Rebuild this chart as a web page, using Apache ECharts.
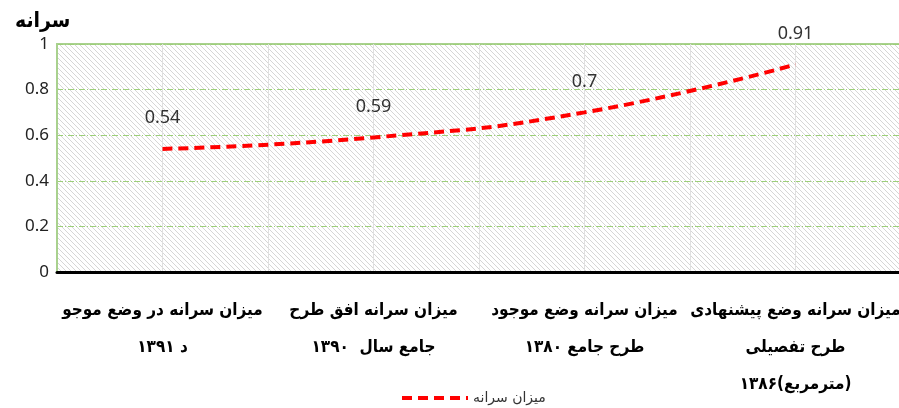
<!DOCTYPE html>
<html><head><meta charset="utf-8">
<script src="https://cdn.jsdelivr.net/npm/echarts@6/dist/echarts.min.js"></script>
<style>html,body{margin:0;padding:0;background:#fff}#c{width:899px;height:408px}</style>
</head><body><div id="c"></div>
<script>
var categories = [
  'میزان سرانه در وضع موجو\nد ۱۳۹۱',
  'میزان سرانه افق طرح\nجامع سال  ۱۳۹۰',
  'میزان سرانه وضع موجود\nطرح جامع ۱۳۸۰',
  'میزان سرانه وضع پیشنهادی\nطرح تفصیلی\n۱۳۸۶(مترمربع)'
];
var seriesName = 'میزان سرانه';
var values = [0.54, 0.59, 0.7, 0.91];
var yTitle = 'سرانه';

var tile = document.createElement('canvas');
tile.width = 5; tile.height = 5;
var tc = tile.getContext('2d');
tc.fillStyle = '#ffffff'; tc.fillRect(0,0,5,5);
tc.fillStyle = '#d6d6d6';
for (var i = 0; i < 5; i++) tc.fillRect(i, i, 1, 1);

var chart = echarts.init(document.getElementById('c'));
chart.setOption({
  animation: false,
  title: { text: yTitle, left: 10, top: 6,
    textStyle: { fontFamily: 'DejaVu Sans Condensed', fontWeight: 'bold', fontSize: 21, color: '#000' } },
  grid: { left: 57, right: -2, top: 44, height: 228, show: true, outerBoundsMode: 'none', containLabel: false,
    backgroundColor: { image: tile, repeat: 'repeat' },
    borderColor: '#a9d18e', borderWidth: 2 },
  legend: { top: 386, left: 395, itemWidth: 66, itemHeight: 10, itemGap: 10,
    textStyle: { fontFamily: 'DejaVu Sans', fontSize: 14, color: '#333' },
    itemStyle: { opacity: 0 },
    lineStyle: { width: 4, type: [10, 6], color: '#ff0000' },
    data: [seriesName] },
  xAxis: [{
    type: 'category', data: categories, boundaryGap: true,
    axisLine: { lineStyle: { color: '#000', width: 3 } },
    axisTick: { show: false },
    splitLine: { show: false },
    axisLabel: { interval: 0, margin: 20, fontFamily: 'DejaVu Sans Condensed', fontWeight: 'bold',
      fontSize: 17, color: '#000', lineHeight: 37 }
  }, {
    type: 'value', min: 0, max: 8, interval: 1, show: true, position: 'top',
    axisLine: { show: false }, axisTick: { show: false }, axisLabel: { show: false },
    splitLine: { show: true, lineStyle: { color: '#e0e0e0', width: 1 } }
  }],
  yAxis: {
    type: 'value', min: 0, max: 1, interval: 0.2,
    axisLine: { show: true, lineStyle: { color: '#a9d18e', width: 2 } },
    axisTick: { show: false },
    axisLabel: { margin: 8, fontFamily: 'Noto Sans', fontSize: 17, color: '#222',
      formatter: function (v) { return String(Math.round(v * 10) / 10); } },
    splitLine: { show: true, lineStyle: { color: '#9ccf78', width: 1, type: [6, 2, 1, 2] } }
  },
  series: [{
    name: seriesName, type: 'line', data: values, smooth: true, xAxisIndex: 0,
    symbol: 'circle', symbolSize: 2, showSymbol: true,
    lineStyle: { color: '#ff0000', width: 4, type: [10, 6] },
    itemStyle: { color: 'rgba(255,0,0,0)', borderWidth: 0 },
    label: { show: true, position: 'top', distance: 21, fontFamily: 'Noto Sans', fontSize: 18, color: '#333' }
  }]
});
</script></body></html>
